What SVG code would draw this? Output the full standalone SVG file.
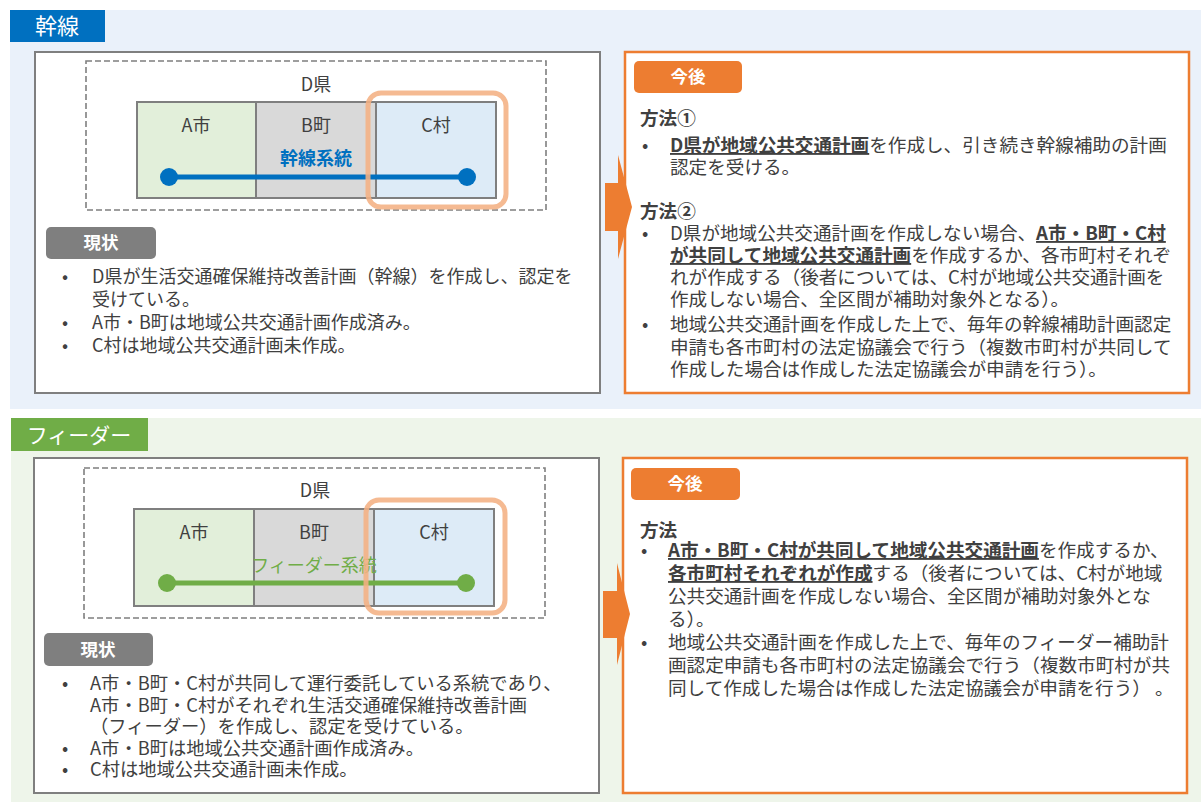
<svg xmlns="http://www.w3.org/2000/svg" width="1201" height="802" viewBox="0 0 1201 802">
<style>
text{font-family:'Noto Sans CJK JP','Noto Sans',sans-serif;fill:#404040;}
.t18{font-size:18px;}
.r{font-size:18.6px;}
.lb{font-size:18.3px;}
.c{text-anchor:middle;}
.b{font-weight:bold;}
.u{font-weight:bold;text-decoration:underline;}
.tab{font-size:22px;fill:#fff;}
.tag{font-size:17.5px;fill:#fff;font-weight:bold;text-anchor:middle;}
.wbox{fill:#fff;stroke:#7f7f7f;stroke-width:2;}
.dash{fill:none;stroke:#7f7f7f;stroke-width:1.6;stroke-dasharray:6 3;}
.cell{stroke:#7f7f7f;stroke-width:2;}
.hl{fill:none;stroke:#F4B183;stroke-width:5;stroke-opacity:0.88;}
.obox{fill:#fff;stroke:#ED7D31;stroke-width:2.5;}
.arrow{fill:#ED7D31;}
</style>

<!-- backgrounds -->
<rect x="10" y="10" width="1191" height="399" fill="#EAF1FA"/>
<rect x="11" y="418" width="1190" height="384" fill="#EEF5EA"/>

<!-- ===== 幹線 section ===== -->
<g id="tab-kansen">
<rect x="10" y="10" width="95" height="32" fill="#0070C0"/>
<text class="tab c" x="57" y="34">幹線</text>
</g>

<g id="left-top">
<rect class="wbox" x="35" y="52" width="565" height="341"/>
</g>

<g id="pref-top">
<rect class="dash" x="86" y="61" width="460" height="149"/>
<text class="t18 c" x="316" y="91">D県</text>
</g>
<g id="a-top">
<rect class="cell" x="137" y="102" width="119" height="96" fill="#E2EFDA"/>
<text class="t18 c" x="196" y="132">A市</text>
</g>
<g id="b-top">
<rect class="cell" x="256" y="102" width="120" height="96" fill="#D9D9D9"/>
<text class="t18 c" x="316" y="132">B町</text>
</g>
<g id="c-top">
<rect class="cell" x="376" y="102" width="120" height="96" fill="#DDEBF7"/>
<text class="t18 c" x="436" y="132">C村</text>
</g>
<g id="route-top">
<text class="t18 c b" x="316" y="165" style="fill:#0070C0">幹線系統</text>
<line x1="169" y1="177" x2="467" y2="177" stroke="#0070C0" stroke-width="5"/>
<circle cx="169" cy="177" r="9" fill="#0070C0"/>
<circle cx="467" cy="177" r="9" fill="#0070C0"/>
</g>
<g id="highlight-top">
<rect class="hl" x="368" y="93" width="138" height="114" rx="13"/>
</g>

<g id="status-top">
<rect x="46" y="227" width="110" height="32" rx="5" fill="#7F7F7F"/>
<text class="tag" x="101" y="249">現状</text>
<text class="t18" x="62" y="283">•</text>
<text class="t18" x="92" y="283">D県が生活交通確保維持改善計画（幹線）を作成し、認定を</text>
<text class="t18" x="92" y="306">受けている。</text>
<text class="t18" x="62" y="329">•</text>
<text class="t18" x="92" y="329">A市・B町は地域公共交通計画作成済み。</text>
<text class="t18" x="62" y="352">•</text>
<text class="t18" x="92" y="352">C村は地域公共交通計画未作成。</text>
</g>

<g id="future-top">
<rect class="obox" x="625" y="52" width="564" height="341"/>
<rect x="634" y="61" width="108" height="32" rx="5" fill="#ED7D31"/>
<text class="tag" x="688" y="83">今後</text>
<text class="r b" x="640" y="125">方法①</text>
<text class="r" x="642" y="152">•</text>
<text class="r" x="670" y="152"><tspan class="u">D県が地域公共交通計画</tspan>を作成し、引き続き幹線補助の計画</text>
<text class="r" x="670" y="174">認定を受ける。</text>
<text class="r b" x="640" y="218">方法②</text>
<text class="r" x="642" y="240">•</text>
<text class="r" x="670" y="240">D県が地域公共交通計画を作成しない場合、<tspan class="u">A市・B町・C村</tspan></text>
<text class="r" x="670" y="262"><tspan class="u">が共同して地域公共交通計画</tspan>を作成するか、各市町村それぞ</text>
<text class="r" x="670" y="284">れが作成する（後者については、C村が地域公共交通計画を</text>
<text class="r" x="670" y="306">作成しない場合、全区間が補助対象外となる）。</text>
<text class="r" x="642" y="331">•</text>
<text class="r" x="670" y="331">地域公共交通計画を作成した上で、毎年の幹線補助計画認定</text>
<text class="r" x="670" y="354">申請も各市町村の法定協議会で行う（複数市町村が共同して</text>
<text class="r" x="670" y="376">作成した場合は作成した法定協議会が申請を行う）。</text>
</g>

<!-- ===== フィーダー section ===== -->
<g id="tab-feeder">
<rect x="11" y="418" width="137" height="33" fill="#70AD47"/>
<text class="tab c" x="79" y="443" style="font-size:21px">フィーダー</text>
</g>

<g id="left-bottom">
<rect class="wbox" x="34" y="458" width="565" height="335"/>
</g>

<g id="pref-bottom">
<rect class="dash" x="84" y="468" width="461" height="150"/>
<text class="t18 c" x="315" y="497">D県</text>
</g>
<g id="a-bottom">
<rect class="cell" x="134" y="509" width="120" height="97" fill="#E2EFDA"/>
<text class="t18 c" x="194" y="539">A市</text>
</g>
<g id="b-bottom">
<rect class="cell" x="254" y="509" width="120" height="97" fill="#D9D9D9"/>
<text class="t18 c" x="314" y="539">B町</text>
</g>
<g id="c-bottom">
<rect class="cell" x="374" y="509" width="120" height="97" fill="#DDEBF7"/>
<text class="t18 c" x="434" y="539">C村</text>
</g>
<g id="route-bottom">
<text class="t18 c" x="314" y="572" style="fill:#70AD47">フィーダー系統</text>
<line x1="167" y1="583" x2="466" y2="583" stroke="#70AD47" stroke-width="5"/>
<circle cx="167" cy="583" r="9" fill="#70AD47"/>
<circle cx="466" cy="583" r="9" fill="#70AD47"/>
</g>
<g id="highlight-bottom">
<rect class="hl" x="366" y="500" width="139" height="113" rx="13"/>
</g>

<g id="status-bottom">
<rect x="44" y="633" width="109" height="33" rx="5" fill="#7F7F7F"/>
<text class="tag" x="98" y="656">現状</text>
<text class="lb" x="62" y="690">•</text>
<text class="lb" x="90" y="690">A市・B町・C村が共同して運行委託している系統であり、</text>
<text class="lb" x="90" y="711.5">A市・B町・C村がそれぞれ生活交通確保維持改善計画</text>
<text class="lb" x="90" y="733">（フィーダー）を作成し、認定を受けている。</text>
<text class="lb" x="62" y="754.5">•</text>
<text class="lb" x="90" y="754.5">A市・B町は地域公共交通計画作成済み。</text>
<text class="lb" x="62" y="776">•</text>
<text class="lb" x="90" y="776">C村は地域公共交通計画未作成。</text>
</g>

<g id="future-bottom">
<rect class="obox" x="623" y="458" width="564" height="335"/>
<rect x="631" y="468" width="109" height="32" rx="5" fill="#ED7D31"/>
<text class="tag" x="685" y="490">今後</text>
<text class="r b" x="640" y="537">方法</text>
<text class="r" x="641" y="557">•</text>
<text class="r" x="668" y="557"><tspan class="u">A市・B町・C村が共同して地域公共交通計画</tspan>を作成するか、</text>
<text class="r" x="668" y="580"><tspan class="u">各市町村それぞれが作成</tspan>する（後者については、C村が地域</text>
<text class="r" x="668" y="603">公共交通計画を作成しない場合、全区間が補助対象外とな</text>
<text class="r" x="668" y="626">る）。</text>
<text class="r" x="641" y="649">•</text>
<text class="r" x="668" y="649">地域公共交通計画を作成した上で、毎年のフィーダー補助計</text>
<text class="r" x="668" y="672">画認定申請も各市町村の法定協議会で行う（複数市町村が共</text>
<text class="r" x="668" y="695">同して作成した場合は作成した法定協議会が申請を行う） 。</text>
</g>

<g id="connectors">
<polygon class="arrow" points="605,183 618,183 618,155 632,207 618,259 618,231 605,231"/>
<polygon class="arrow" points="603,591 617,591 617,563 630,614 617,665 617,638 603,638"/>
</g>
</svg>
